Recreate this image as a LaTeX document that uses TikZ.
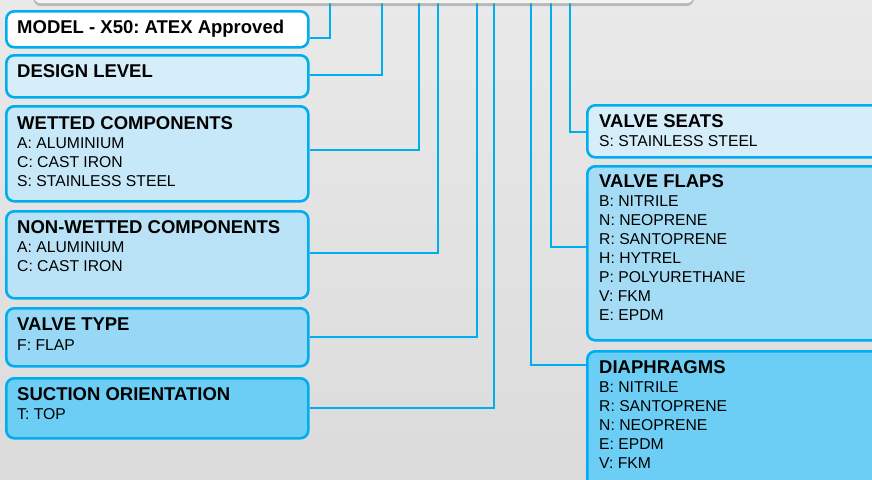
\documentclass[tikz,border=0pt]{standalone}
\usepackage{fontspec}
\setmainfont{Liberation Sans}
\usepackage{tikz}
\usetikzlibrary{shadows}
\definecolor{kxcyan}{RGB}{0,174,239}
\definecolor{kxbg}{RGB}{233,233,233}
\definecolor{kxbgdark}{RGB}{219,219,219}
\definecolor{kxpale}{RGB}{214,238,250}
\definecolor{kxlight}{RGB}{198,232,248}
\definecolor{kxsoft}{RGB}{186,226,246}
\definecolor{kxmid}{RGB}{164,220,246}
\definecolor{kxtype}{RGB}{150,216,245}
\definecolor{kxdeep}{RGB}{108,206,245}
\newcommand{\hd}[1]{{\bfseries\fontsize{18.5}{20}\selectfont #1}}
\frenchspacing

\begin{document}
\begin{tikzpicture}[x=1pt, y=-1pt,
      box/.style={draw=kxcyan, line width=2.6pt, rounded corners=8pt,
                  anchor=north west, inner sep=0pt},
      lbox/.style={box, minimum width=302pt},
      rbox/.style={box, minimum width=320pt},
      txt/.style={anchor=north west, align=left, inner sep=0pt,
                  font=\fontsize{15.7}{19.1}\selectfont},
      wire/.style={kxcyan, line width=2.6pt},
      panel/.style={fill=kxbg!50!white, rounded corners=8pt, anchor=north west,
                    minimum width=661pt, minimum height=43pt, inner sep=0pt,
                    drop shadow={shadow xshift=0pt, shadow yshift=-3pt, opacity=0.45}}
    ]
    \useasboundingbox (0,0) rectangle (872,479);
    \clip (0,0) rectangle (872,479);
    \fill[top color=kxbg, bottom color=kxbgdark] (0,0) rectangle (872,479);

    \node[lbox, fill=white,   minimum height=36pt] (model)   at (5,10)  {};
    \node[lbox, fill=kxpale,  minimum height=42pt] (design)  at (5,54)  {};
    \node[lbox, fill=kxlight, minimum height=95pt] (wet)     at (5,105) {};
    \node[lbox, fill=kxsoft,  minimum height=87pt] (dry)     at (5,210) {};
    \node[lbox, fill=kxtype,  minimum height=58pt] (vtype)   at (5,307) {};
    \node[lbox, fill=kxdeep,  minimum height=60pt] (suction) at (5,377) {};
    \node[rbox, fill=kxpale,  minimum height=52pt]  (seats)  at (586,104) {};
    \node[rbox, fill=kxmid,   minimum height=174pt] (flaps)  at (586,165) {};
    \node[rbox, fill=kxdeep,  minimum height=150pt] (diaph)  at (586,350) {};

    \node[txt] (model-t)   at ([shift={(12,10)}]model.north west)   {\hd{MODEL - X50: ATEX Approved}};
    \node[txt] (design-t)  at ([shift={(12,10)}]design.north west)  {\hd{DESIGN LEVEL}};
    \node[txt] (wet-t)     at ([shift={(12,11)}]wet.north west)     {\hd{WETTED COMPONENTS}\\A: ALUMINIUM\\C: CAST IRON\\S: STAINLESS STEEL};
    \node[txt] (dry-t)     at ([shift={(12,10)}]dry.north west)     {\hd{NON-WETTED COMPONENTS}\\A: ALUMINIUM\\C: CAST IRON};
    \node[txt] (vtype-t)   at ([shift={(12,11)}]vtype.north west)   {\hd{VALVE TYPE}\\F: FLAP};
    \node[txt] (suction-t) at ([shift={(12,10)}]suction.north west) {\hd{SUCTION ORIENTATION}\\T: TOP};
    \node[txt] (seats-t)   at ([shift={(13,10)}]seats.north west)   {\hd{VALVE SEATS}\\S: STAINLESS STEEL};
    \node[txt] (flaps-t)   at ([shift={(13,9)}]flaps.north west)    {\hd{VALVE FLAPS}\\B: NITRILE\\N: NEOPRENE\\R: SANTOPRENE\\H: HYTREL\\P: POLYURETHANE\\V: FKM\\E: EPDM};
    \node[txt] (diaph-t)   at ([shift={(13,10)}]diaph.north west)   {\hd{DIAPHRAGMS}\\B: NITRILE\\R: SANTOPRENE\\N: NEOPRENE\\E: EPDM\\V: FKM};

    \foreach \n/\x/\y/\s in {model/330/38/east, design/382/75/east, wet/419/150/east,
                             dry/438/253/east, vtype/477/337/east, suction/494/408/east,
                             diaph/531/365/west, flaps/551/247/west, seats/570/132/west} {
      \coordinate (\n-top) at (\x,0);
      \coordinate (\n-bend) at (\x,\y);
      \draw[wire] (\n-top) -- (\n-bend) -- (\n-bend -| \n.\s);
    }

    \node[panel] (head) at (33,-40) {};
  \end{tikzpicture}
\end{document}
